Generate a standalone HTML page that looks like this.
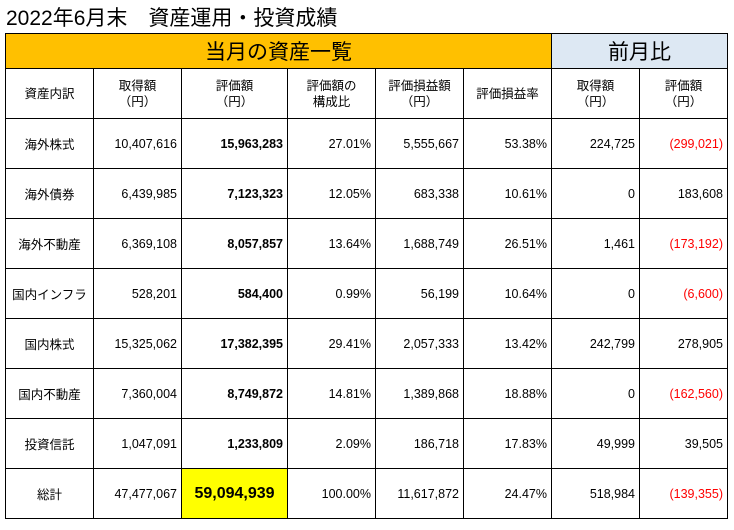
<!DOCTYPE html>
<html><head><meta charset="utf-8"><style>
body{margin:0;width:734px;height:530px;background:#fff;overflow:hidden;font-family:"Liberation Sans","Noto Sans CJK JP",sans-serif;}
#title{position:absolute;left:6px;top:2px;font-size:21px;color:#000;white-space:nowrap;}
table{position:absolute;left:5px;top:33px;border-collapse:collapse;table-layout:fixed;}
td{border:1px solid #000;font-size:12.5px;padding:0 4px;white-space:nowrap;overflow:hidden;}
.h1{height:34px;font-size:21px;text-align:center;}
.h2 td{height:49px;text-align:center;line-height:16px;font-size:12.5px;}
.r td{height:49px;text-align:right;}
.r td:first-child{text-align:center;}
.b{font-weight:bold;}
.red{color:#f00;}
</style></head><body>
<div id="title">2022年6月末　資産運用・投資成績</div>
<table>
<colgroup><col style="width:88px"><col style="width:88px"><col style="width:106px"><col style="width:88px"><col style="width:88px"><col style="width:88px"><col style="width:88px"><col style="width:88px"></colgroup>
<tr><td class="h1" colspan="6" style="background:#ffc000">当月の資産一覧</td><td class="h1" colspan="2" style="background:#dde8f3">前月比</td></tr>
<tr class="h2"><td>資産内訳</td><td>取得額<br>（円）</td><td>評価額<br>（円）</td><td>評価額の<br>構成比</td><td>評価損益額<br>（円）</td><td>評価損益率</td><td>取得額<br>（円）</td><td>評価額<br>（円）</td></tr>
<tr class="r"><td>海外株式</td><td>10,407,616</td><td class="b">15,963,283</td><td>27.01%</td><td>5,555,667</td><td>53.38%</td><td>224,725</td><td class="red">(299,021)</td></tr>
<tr class="r"><td>海外債券</td><td>6,439,985</td><td class="b">7,123,323</td><td>12.05%</td><td>683,338</td><td>10.61%</td><td>0</td><td>183,608</td></tr>
<tr class="r"><td>海外不動産</td><td>6,369,108</td><td class="b">8,057,857</td><td>13.64%</td><td>1,688,749</td><td>26.51%</td><td>1,461</td><td class="red">(173,192)</td></tr>
<tr class="r"><td>国内インフラ</td><td>528,201</td><td class="b">584,400</td><td>0.99%</td><td>56,199</td><td>10.64%</td><td>0</td><td class="red">(6,600)</td></tr>
<tr class="r"><td>国内株式</td><td>15,325,062</td><td class="b">17,382,395</td><td>29.41%</td><td>2,057,333</td><td>13.42%</td><td>242,799</td><td>278,905</td></tr>
<tr class="r"><td>国内不動産</td><td>7,360,004</td><td class="b">8,749,872</td><td>14.81%</td><td>1,389,868</td><td>18.88%</td><td>0</td><td class="red">(162,560)</td></tr>
<tr class="r"><td>投資信託</td><td>1,047,091</td><td class="b">1,233,809</td><td>2.09%</td><td>186,718</td><td>17.83%</td><td>49,999</td><td>39,505</td></tr>
<tr class="r"><td>総計</td><td>47,477,067</td><td class="b" style="background:#ffff00;font-size:16px;text-align:center">59,094,939</td><td>100.00%</td><td>11,617,872</td><td>24.47%</td><td>518,984</td><td class="red">(139,355)</td></tr>
</table>
</body></html>
